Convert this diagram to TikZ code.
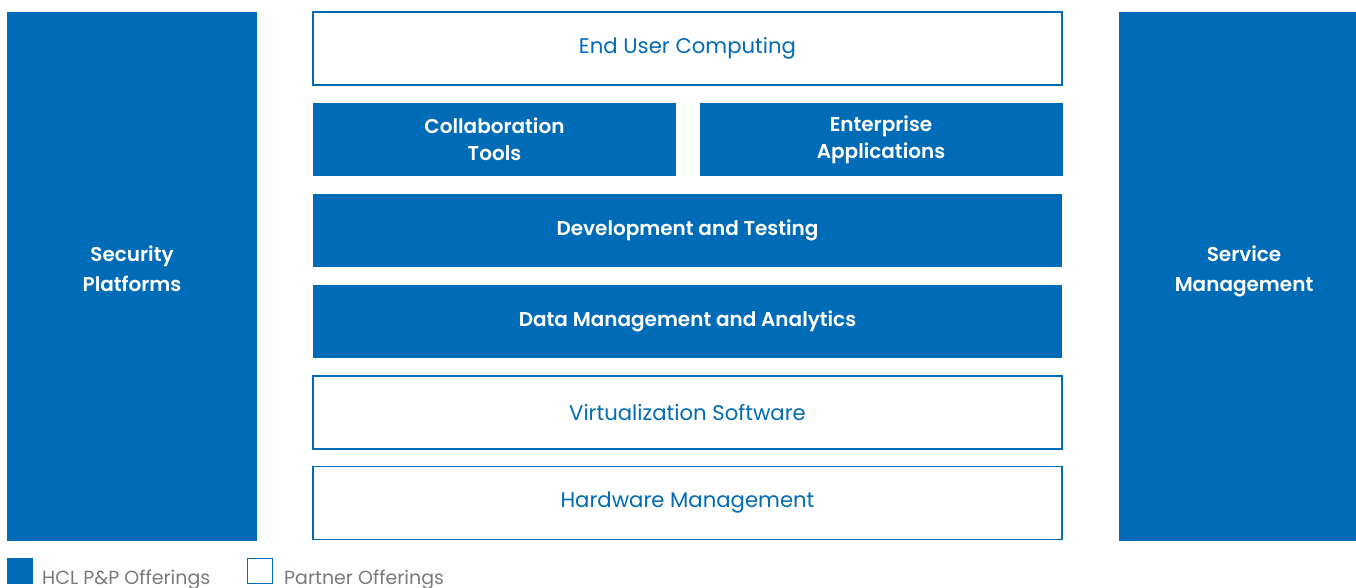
\documentclass[tikz,border=0pt]{standalone}
\usepackage{fontspec}
\setmainfont{Poppins}[BoldFont={Poppins SemiBold}]
\usepackage{xcolor}
\definecolor{hclblue}{HTML}{006BB6}
\definecolor{legendgray}{HTML}{7A7A7A}
\tikzset{
  hcl/.style={fill=hclblue, draw=none, text=white, align=center,
    font=\fontsize{20}{27}\selectfont\bfseries, inner sep=0pt},
  partner/.style={fill=white, draw=hclblue, line width=1.2pt, text=hclblue,
    align=center, font=\fontsize{21.2}{27}\selectfont, inner sep=0pt},
  legtext/.style={text=legendgray, anchor=base west, inner sep=0pt,
    font=\fontsize{19}{21}\selectfont}
}
\begin{document}
\begin{tikzpicture}[x=1pt, y=-1pt]
  \useasboundingbox (0,0) rectangle (1356,587);
  % side columns
  \node[hcl, minimum width=250pt, minimum height=529pt] (sec) at (132,276.5) {};
  \node[hcl, font=\fontsize{20}{30}\selectfont\bfseries] (sectext) at (132,268.5) {Security\\Platforms};
  \node[hcl, minimum width=250pt, minimum height=529pt] (svc) at (1244,276.5) {};
  \node[hcl, font=\fontsize{20}{30}\selectfont\bfseries] (svctext) at (1244,271.5) {Service\\Management};
  % middle stack
  \node[partner, minimum width=749pt, minimum height=73pt] (euc) at (687.5,48.5) {End User Computing};
  \node[hcl, minimum width=363pt, minimum height=73pt] (collab) at (494.5,139.5) {Collaboration\\Tools};
  \node[hcl, minimum width=363pt, minimum height=73pt] (ent) at (881,139.5) {Enterprise\\Applications};
  \node[hcl, minimum width=749pt, minimum height=73pt] (dev) at (687.5,230.5) {Development and Testing};
  \node[hcl, minimum width=749pt, minimum height=73pt] (data) at (687.5,321.5) {Data Management and Analytics};
  \node[partner, minimum width=749pt, minimum height=73pt] (virt) at (687.5,412.5) {Virtualization Software};
  \node[partner, minimum width=749pt, minimum height=73pt] (hw) at (687.5,503) {Hardware Management};
  % legend
  \node[fill=hclblue, minimum size=26pt, inner sep=0pt] (keyhcl) at (20,571) {};
  \node[legtext] (lblhcl) at (42,584) {HCL P\&P Offerings};
  \node[draw=hclblue, line width=1pt, minimum size=25pt, inner sep=0pt] (keypartner) at (260,571) {};
  \node[legtext] (lblpartner) at (284,584) {Partner Offerings};
\end{tikzpicture}
\end{document}
